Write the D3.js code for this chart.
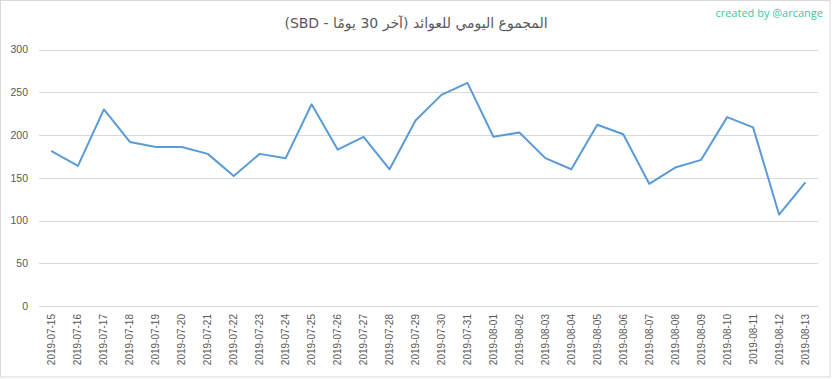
<!DOCTYPE html>
<html><head><meta charset="utf-8">
<script src="https://cdn.jsdelivr.net/npm/d3@7"></script>
<style>body{margin:0;background:#fff}svg{display:block}</style>
</head><body>
<script>
const dates = ["2019-07-15","2019-07-16","2019-07-17","2019-07-18","2019-07-19","2019-07-20","2019-07-21","2019-07-22","2019-07-23","2019-07-24","2019-07-25","2019-07-26","2019-07-27","2019-07-28","2019-07-29","2019-07-30","2019-07-31","2019-08-01","2019-08-02","2019-08-03","2019-08-04","2019-08-05","2019-08-06","2019-08-07","2019-08-08","2019-08-09","2019-08-10","2019-08-11","2019-08-12","2019-08-13"];
const values = [181,164,230,192,186,186,178,152,178,173,236,183,198,160,217,247,261,198,203,173,160,212,201,143,162,171,221,209,107,144];
const yTicks = [0,50,100,150,200,250,300];
const title = "المجموع اليومي للعوائد (آخر 30 يومًا - SBD)";
const credit = "created by @arcange";

const W = 833, H = 379;
const svg = d3.select("body").append("svg").attr("width", W).attr("height", H);
svg.append("rect").attr("x",0.5).attr("y",0.5).attr("width",829.5).attr("height",376.5)
  .attr("fill","#fff").attr("stroke","#d9d9d9");

const x = d3.scaleBand().domain(dates).range([39, 818]);
const y = d3.scaleLinear().domain([0,300]).range([306, 49.6]);

const font = "'Liberation Sans','DejaVu Sans',sans-serif";

// gridlines
svg.append("g").selectAll("line").data(yTicks).join("line")
  .attr("x1",39).attr("x2",818)
  .attr("y1",d=>Math.round(y(d))+0.5).attr("y2",d=>Math.round(y(d))+0.5)
  .attr("stroke","#d9d9d9").attr("stroke-width",1);

// y axis labels
const yAxis = d3.axisLeft(y).tickValues(yTicks).tickSize(0).tickPadding(0);
const gy = svg.append("g").attr("transform","translate(28,0)").call(yAxis);
gy.select(".domain").remove();
gy.selectAll("text").attr("font-family",font).attr("font-size","10.5px").attr("fill","#595959");

// x axis labels
const xAxis = d3.axisBottom(x).tickSize(0).tickPadding(0);
const gx = svg.append("g").attr("transform","translate(0,314)").call(xAxis);
gx.select(".domain").remove();
gx.selectAll("text").attr("font-family",font).attr("font-size","10px").attr("fill","#595959")
  .attr("transform","rotate(-90)").attr("text-anchor","end").attr("dy","0.35em").attr("x",0).attr("y",0);

// line
const line = d3.line().x((d,i)=>x(dates[i])+x.bandwidth()/2).y(d=>y(d));
svg.append("path").datum(values).attr("d",line).attr("fill","none")
  .attr("stroke","#5b9bd5").attr("stroke-width",2).attr("stroke-linejoin","round").attr("stroke-linecap","round");

// title
svg.append("text").attr("x",416).attr("y",28).attr("text-anchor","middle").attr("direction","rtl")
  .attr("font-family","'DejaVu Sans',sans-serif").attr("font-size","14px").attr("fill","#595959").text(title);

// credit
svg.append("text").attr("x",823).attr("y",17).attr("text-anchor","end")
  .attr("font-family","'Open Sans','DejaVu Sans',sans-serif").attr("font-size","11px").attr("fill","#3cc8a4").text(credit);
</script>
</body></html>
